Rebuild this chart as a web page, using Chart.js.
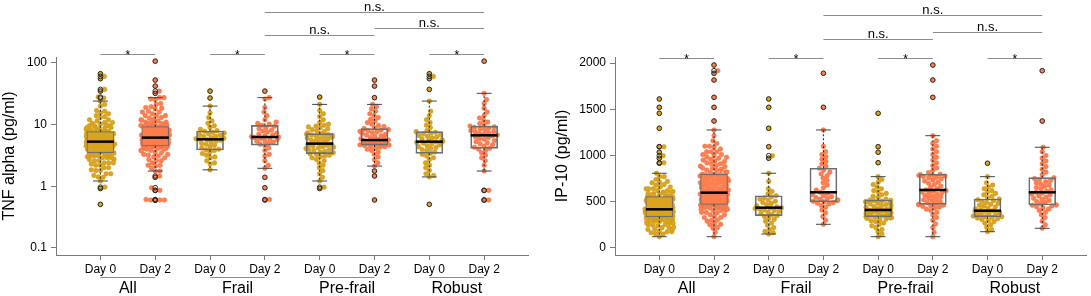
<!DOCTYPE html>
<html>
<head>
<meta charset="utf-8">
<script src="https://cdn.jsdelivr.net/npm/chart.js@4.4.1/dist/chart.umd.min.js"></script>
<style>
  body { margin: 0; background: #fff; }
  #wrap { position: relative; width: 1091px; height: 296px; }
  #wrap canvas { position: absolute; top: 0; }
</style>
</head>
<body>
<div id="wrap">
  <canvas id="tnfChart" width="545" height="296" style="left:0"></canvas>
  <canvas id="ipChart" width="546" height="296" style="left:545px"></canvas>
</div>
<script>
// categories
const groupNames = ['All', 'Frail', 'Pre-frail', 'Robust'];
const dayNames = ['Day 0', 'Day 2'];
const xTickPos = [0, 1, 2, 3, 4, 5, 6, 7];

// comparisons: [from, to, label]
const sigPairs = [[0, 1, '*'], [2, 3, '*'], [4, 5, '*'], [6, 7, '*'], [3, 5, 'n.s.'], [5, 7, 'n.s.'], [3, 7, 'n.s.']];

// ---- TNF alpha (pg/ml) ----
const tnfFrailDay0 = [1.85, 2.3, 2.4, 2.6, 2.9, 3.0, 3.2, 3.4, 3.6, 3.8, 3.9, 4.0, 4.2, 4.4, 4.6, 4.8, 5.0, 5.2, 5.4, 5.6, 5.7, 5.8,
  5.9, 6.0, 6.2, 6.4, 6.5, 6.7, 6.9, 7.1, 7.3, 7.5, 7.8, 8.0, 8.4, 9.0, 9.6, 10.5, 11.5, 13, 15.5, 20, 27, 35];
const tnfFrailDay2 = [0.6, 0.61, 0.95, 1.4, 1.96, 2.2, 2.6, 3.1, 3.3, 3.8, 4.2, 4.6, 4.8, 5.0, 5.2, 5.4, 5.5, 5.7, 5.9, 6.0, 6.2, 6.3,
  6.4, 6.6, 6.8, 7.0, 7.3, 7.6, 7.9, 8.2, 8.6, 9.0, 9.4, 9.8, 10.2, 10.5, 11, 12, 14, 16, 19, 26, 27.4, 35];
const tnfPreDay0 = [0.92, 0.97, 1.22, 1.4, 1.6, 1.8, 2.0, 2.2, 2.4, 2.6, 2.75, 2.9, 3.0, 3.1, 3.2, 3.3, 3.39,
  3.5, 3.6, 3.7, 3.8, 3.9, 4.0, 4.1, 4.2, 4.3, 4.4, 4.5, 4.6, 4.7, 4.75, 4.8, 4.85, 4.92,
  5.0, 5.1, 5.2, 5.35, 5.5, 5.65, 5.8, 5.95, 6.1, 6.25, 6.4, 6.55, 6.7, 6.8, 6.9, 7.0, 7.15,
  7.4, 7.7, 8.0, 8.3, 8.6, 8.9, 9.2, 9.5, 9.8, 10.2, 10.8, 12, 13.5, 15, 17, 21.3, 28];
const tnfPreDay2 = [0.6, 1.47, 1.77, 2.13, 2.4, 2.7, 3.0, 3.3, 3.6, 3.8, 4.0, 4.15, 4.3, 4.4, 4.5, 4.6, 4.67,
  4.7, 4.75, 4.8, 4.85, 4.9, 4.95, 5.0, 5.05, 5.1, 5.15, 5.2, 5.25, 5.3, 5.4, 5.45, 5.55, 5.63,
  5.75, 5.9, 6.05, 6.2, 6.4, 6.6, 6.8, 7.0, 7.2, 7.4, 7.6, 7.8, 8.0, 8.15, 8.3, 8.45, 8.61,
  8.9, 9.3, 9.7, 10.2, 10.8, 11.5, 12.2, 13, 14, 15, 16.5, 18, 19.5, 21.3, 27.4, 42.2, 52.8];
const tnfRobustDay0 = [0.51, 1.42, 1.5, 1.6, 1.8, 2.0, 2.2, 2.4, 2.7, 2.9, 3.1, 3.3,
  3.43, 3.6, 3.8, 3.95, 4.1, 4.25, 4.4, 4.55, 4.7, 4.85, 5.0, 5.15, 5.25,
  5.35, 5.5, 5.7, 5.9, 6.1, 6.3, 6.5, 6.7, 6.9, 7.1, 7.3, 7.5, 7.7,
  8.0, 9.0, 9.8, 10.8, 12, 14, 16.5, 24.1, 37.3, 55.6, 60.6, 67];
const tnfRobustDay2 = [0.6, 0.6, 0.86, 0.86, 1.77, 2.2, 2.6, 2.9, 3.2, 3.5, 3.8, 4.0,
  4.13, 4.3, 4.5, 4.7, 4.9, 5.1, 5.3, 5.5, 5.8, 6.0, 6.2, 6.4, 6.6,
  6.8, 7.0, 7.2, 7.4, 7.6, 7.8, 8.0, 8.3, 8.6, 8.8, 9.0, 9.25, 9.49,
  9.9, 10.4, 11, 11.8, 12.8, 14, 16, 18.5, 22, 25.5, 32.2, 107];
// box statistics, order: All D0, All D2, Frail D0, Frail D2, Pre D0, Pre D2, Robust D0, Robust D2
const tnfQ1 = [3.52, 4.5, 3.88, 4.67, 3.39, 4.67, 3.43, 4.13];
const tnfMedian = [5.3, 6.16, 5.78, 6.3, 4.92, 5.63, 5.3, 6.71];
const tnfQ3 = [7.7, 9.28, 7.88, 9.75, 7.15, 8.61, 7.7, 9.49];
const tnfLo = [1.22, 1.77, 1.85, 1.96, 1.22, 2.13, 1.42, 1.77];
const tnfHi = [24.1, 27.4, 20, 27.4, 21.3, 21.3, 24.1, 32.2];
const tnfTicks = [0.1, 1, 10, 100];
const tnfSigLevel = [141, 141, 141, 141, 284, 369, 681];

// ---- IP-10 (pg/ml) ----
const ipFrailDay0 = [151, 165, 180, 200, 220, 245, 270, 290, 310, 325, 340,
  349, 360, 372, 385, 395, 405, 412, 420, 426, 431, 436,
  445, 455, 468, 480, 492, 505, 518, 530, 542, 553, 565,
  585, 610, 640, 720, 808, 970, 998, 1095, 1294, 1521, 1611];
const ipFrailDay2 = [256, 300, 340, 380, 410, 440, 460, 475, 485, 492, 500,
  505, 512, 520, 528, 535, 545, 555, 565, 578, 590, 602,
  625, 650, 680, 705, 730, 755, 780, 800, 820, 842, 862,
  885, 910, 935, 960, 985, 1010, 1040, 1100, 1276, 1521, 1889];
const ipPreDay0 = [122, 150, 175, 200, 220, 240, 255, 270, 285, 295, 305, 312, 318, 324, 329, 334, 338,
  343, 348, 353, 358, 363, 368, 373, 378, 383, 388, 392, 396, 400, 403, 406, 409, 411,
  418, 425, 432, 440, 448, 456, 463, 470, 477, 484, 490, 496, 502, 507, 511, 515, 519,
  530, 545, 560, 575, 590, 605, 620, 640, 660, 685, 710, 740, 771, 922, 1035, 1095, 1456];
const ipPreDay2 = [122, 170, 220, 260, 300, 330, 360, 385, 405, 420, 432, 442, 450, 457, 463, 468, 472,
  480, 490, 500, 510, 520, 530, 540, 550, 560, 570, 580, 590, 598, 606, 614, 620, 627,
  640, 655, 670, 685, 700, 712, 724, 736, 748, 758, 766, 772, 778, 784, 789, 793, 797,
  815, 840, 865, 890, 920, 950, 980, 1010, 1040, 1070, 1100, 1130, 1160, 1214, 1629, 1816, 1978];
const ipRobustDay0 = [176, 200, 225, 250, 270, 285, 298, 308, 316, 324, 331, 336,
  338, 345, 352, 358, 364, 370, 376, 381, 386, 391, 395, 399, 403,
  412, 422, 432, 442, 452, 462, 472, 482, 492, 502, 512, 521, 530,
  545, 560, 575, 590, 605, 620, 640, 660, 680, 705, 771, 916];
const ipRobustDay2 = [213, 250, 290, 330, 360, 385, 405, 420, 435, 445, 455, 462,
  465, 478, 490, 502, 514, 526, 538, 550, 562, 574, 584, 594, 602,
  615, 628, 641, 654, 667, 680, 692, 704, 716, 728, 740, 750, 760,
  790, 820, 850, 880, 910, 940, 970, 1000, 1040, 1089, 1373, 1917];
const ipQ1 = [338, 472, 349, 500, 338, 472, 338, 465];
const ipMedian = [418, 598, 436, 602, 411, 627, 403, 602];
const ipQ3 = [555, 797, 565, 862, 519, 797, 530, 760];
const ipLo = [122, 122, 151, 256, 122, 122, 176, 213];
const ipHi = [808, 1276, 808, 1276, 771, 1214, 771, 1089];
const ipTicks = [0, 500, 1000, 1500, 2000];
const ipSigLevel = [2059, 2059, 2059, 2059, 2259, 2338, 2519];

// colours
const gold = '#DAA520';
const coral = '#FF7F50';
const fontFamily = 'Arial, "Liberation Sans", sans-serif';
Chart.defaults.font.family = fontFamily;
Chart.defaults.color = '#000';

// "All" is the pooled cohort
const tnfSeries = [
  [...tnfFrailDay0, ...tnfPreDay0, ...tnfRobustDay0], [...tnfFrailDay2, ...tnfPreDay2, ...tnfRobustDay2],
  tnfFrailDay0, tnfFrailDay2, tnfPreDay0, tnfPreDay2, tnfRobustDay0, tnfRobustDay2
];
const ipSeries = [
  [...ipFrailDay0, ...ipPreDay0, ...ipRobustDay0], [...ipFrailDay2, ...ipPreDay2, ...ipRobustDay2],
  ipFrailDay0, ipFrailDay2, ipPreDay0, ipPreDay2, ipRobustDay0, ipRobustDay2
];

// boxplot extras: whiskers, caps, medians, significance bars, group labels
const boxExtras = {
  id: 'boxExtras',
  afterDatasetsDraw(chart, args, opts) {
    const { ctx } = chart;
    const xs = chart.scales.x, ys = chart.scales.y;
    const boxMeta = chart.getDatasetMeta(opts.boxIndex);
    ctx.save();
    xTickPos.forEach((pos, i) => {
      const x = xs.getPixelForValue(pos);
      const half = boxMeta.data[i].width / 2;
      const cap = half * 0.55;
      const yQ1 = ys.getPixelForValue(opts.q1[i]), yQ3 = ys.getPixelForValue(opts.q3[i]);
      const yLo = ys.getPixelForValue(opts.lo[i]), yHi = ys.getPixelForValue(opts.hi[i]);
      // dotted whiskers
      ctx.strokeStyle = '#222';
      ctx.lineWidth = 1;
      ctx.setLineDash([2, 2]);
      ctx.beginPath();
      ctx.moveTo(x, yQ3); ctx.lineTo(x, yHi);
      ctx.moveTo(x, yQ1); ctx.lineTo(x, yLo);
      ctx.stroke();
      ctx.setLineDash([]);
      ctx.strokeStyle = '#444';
      ctx.beginPath();
      ctx.moveTo(x - cap, yHi); ctx.lineTo(x + cap, yHi);
      ctx.moveTo(x - cap, yLo); ctx.lineTo(x + cap, yLo);
      ctx.stroke();
      // median
      const yMed = ys.getPixelForValue(opts.median[i]);
      ctx.strokeStyle = '#000';
      ctx.lineWidth = 2.5;
      ctx.beginPath();
      ctx.moveTo(x - half, yMed); ctx.lineTo(x + half, yMed);
      ctx.stroke();
    });
    ctx.restore();
  },
  afterDraw(chart, args, opts) {
    const { ctx, chartArea } = chart;
    const xs = chart.scales.x, ys = chart.scales.y;
    ctx.save();
    // significance bars
    sigPairs.forEach(([a, b, label], k) => {
      const x1 = xs.getPixelForValue(a), x2 = xs.getPixelForValue(b);
      const y = Math.round(ys.getPixelForValue(opts.sigLevel[k])) + 0.5;
      ctx.strokeStyle = '#8c8c8c';
      ctx.lineWidth = 1;
      ctx.beginPath();
      ctx.moveTo(x1, y); ctx.lineTo(x2, y);
      ctx.stroke();
      ctx.fillStyle = '#000';
      ctx.textAlign = 'center';
      ctx.textBaseline = 'alphabetic';
      if (label === '*') {
        ctx.font = '12px ' + fontFamily;
        ctx.fillText(label, (x1 + x2) / 2, y + 4.5);
      } else {
        ctx.font = '13px ' + fontFamily;
        ctx.fillText(label, (x1 + x2) / 2, y - 1.5);
      }
    });
    // group labels under the axis
    groupNames.forEach((name, g) => {
      const x1 = xs.getPixelForValue(g * 2), x2 = xs.getPixelForValue(g * 2 + 1);
      const y = chartArea.bottom + 22.5;
      ctx.strokeStyle = '#8c8c8c';
      ctx.lineWidth = 1;
      ctx.beginPath();
      ctx.moveTo(x1, y); ctx.lineTo(x2, y);
      ctx.stroke();
      ctx.fillStyle = '#000';
      ctx.font = '16px ' + fontFamily;
      ctx.textAlign = 'center';
      ctx.textBaseline = 'middle';
      ctx.fillText(name, (x1 + x2) / 2, chartArea.bottom + 34);
    });
    ctx.restore();
  }
};

// beeswarm placement (ascending priority) in pixel space, wrapped into a corral
function swarm(chart, points) {
  const xs = chart.scales.x, ys = chart.scales.y;
  const unit = xs.getPixelForValue(1) - xs.getPixelForValue(0);
  const d = 4.6;
  const corral = 14.5;
  const byGroup = {};
  points.forEach(p => { (byGroup[p.g] = byGroup[p.g] || []).push(p); });
  Object.values(byGroup).forEach(list => {
    const placed = [];
    list.slice().sort((a, b) => a.y - b.y).forEach(p => {
      const py = ys.getPixelForValue(p.y);
      const cands = [0];
      placed.forEach(q => {
        const dy = Math.abs(q.py - py);
        if (dy < d) {
          const dx = Math.sqrt(d * d - dy * dy);
          cands.push(q.px + dx, q.px - dx);
        }
      });
      cands.sort((a, b) => Math.abs(a) - Math.abs(b));
      for (const c of cands) {
        const ok = placed.every(q => (q.px - c) ** 2 + (q.py - py) ** 2 >= d * d - 0.01);
        if (ok) {
          placed.push({ px: c, py });
          let off = c;
          if (Math.abs(off) > corral) {
            off = ((off + corral) % (2 * corral) + 2 * corral) % (2 * corral) - corral;
          }
          p.x = p.g + off / unit;
          break;
        }
      }
    });
  });
}

function makePanel(canvasId, cfg) {
  const day0Pts = [], day2Pts = [], rings = [];
  cfg.series.forEach((vals, i) => {
    vals.forEach(v => {
      (i % 2 === 0 ? day0Pts : day2Pts).push({ x: i, y: v, g: i });
      if (v > cfg.hi[i] * (1 + 1e-9) || v < cfg.lo[i] * (1 - 1e-9)) rings.push({ x: i, y: v });
    });
  });
  const boxes = xTickPos.map(i => ({ x: i, y: [cfg.q1[i], cfg.q3[i]] }));
  const boxFill = xTickPos.map(i => i === 0 ? 'rgba(218,165,32,0.82)' : i === 1 ? 'rgba(255,127,80,0.78)' : 'rgba(255,255,255,0)');

  const chart = new Chart(document.getElementById(canvasId), {
    type: 'scatter',
    data: {
      datasets: [
        { type: 'scatter', data: day0Pts, backgroundColor: gold, borderColor: '#C99410', borderWidth: 0.5, pointRadius: 2.3, order: 3 },
        { type: 'scatter', data: day2Pts, backgroundColor: coral, borderColor: '#F06A3A', borderWidth: 0.5, pointRadius: 2.3, order: 3 },
        { type: 'bar', data: boxes, backgroundColor: boxFill, borderColor: '#6e6e6e', borderWidth: 1,
          borderSkipped: false, barThickness: 27, order: 2 },
        { type: 'scatter', data: rings, backgroundColor: 'rgba(0,0,0,0)', borderColor: '#2a2a2a', borderWidth: 1, pointRadius: 2.3, order: 1 }
      ]
    },
    options: {
      responsive: false,
      animation: false,
      events: [],
      layout: { padding: { left: 0, right: cfg.padRight, top: 57, bottom: 0 } },
      plugins: {
        legend: { display: false },
        tooltip: { enabled: false },
        boxExtras: { boxIndex: 2, q1: cfg.q1, q3: cfg.q3, lo: cfg.lo, hi: cfg.hi, median: cfg.median, sigLevel: cfg.sigLevel }
      },
      scales: {
        x: {
          type: 'linear', min: -0.81, max: 7.8, offset: false,
          afterBuildTicks: s => { s.ticks = xTickPos.map(v => ({ value: v })); },
          afterFit: s => { s.height = 41; },
          ticks: { callback: v => dayNames[v % 2], autoSkip: false, maxRotation: 0, padding: 2, font: { size: 12 }, color: '#000' },
          grid: { drawOnChartArea: false, drawTicks: true, tickLength: 5, color: '#7a7a7a', offset: false },
          border: { color: '#7a7a7a', width: 1 }
        },
        y: {
          type: cfg.yType, min: cfg.yMin, max: cfg.yMax,
          afterBuildTicks: s => { s.ticks = cfg.ticks.map(v => ({ value: v })); },
          afterFit: s => { s.width = cfg.yWidth; },
          ticks: { callback: v => String(v), padding: 4, font: { size: 12 }, color: '#000' },
          grid: { drawOnChartArea: false, drawTicks: true, tickLength: 5, color: '#7a7a7a' },
          border: { color: '#7a7a7a', width: 1 },
          title: { display: true, text: cfg.title, font: { size: 16 }, color: '#000', padding: { top: cfg.titlePad, bottom: 0 } }
        }
      }
    },
    plugins: [boxExtras]
  });
  swarm(chart, day0Pts.concat(day2Pts));
  chart.update('none');
  return chart;
}

makePanel('tnfChart', {
  series: tnfSeries, q1: tnfQ1, q3: tnfQ3, lo: tnfLo, hi: tnfHi, median: tnfMedian,
  sigLevel: tnfSigLevel, ticks: tnfTicks, yType: 'logarithmic', yMin: 0.077, yMax: 125,
  yWidth: 56, padRight: 17, title: 'TNF alpha (pg/ml)', titlePad: 0
});
makePanel('ipChart', {
  series: ipSeries, q1: ipQ1, q3: ipQ3, lo: ipLo, hi: ipHi, median: ipMedian,
  sigLevel: ipSigLevel, ticks: ipTicks, yType: 'linear', yMin: -76, yMax: 2065,
  yWidth: 70, padRight: 4, title: 'IP-10 (pg/ml)', titlePad: 8
});
</script>
</body>
</html>
